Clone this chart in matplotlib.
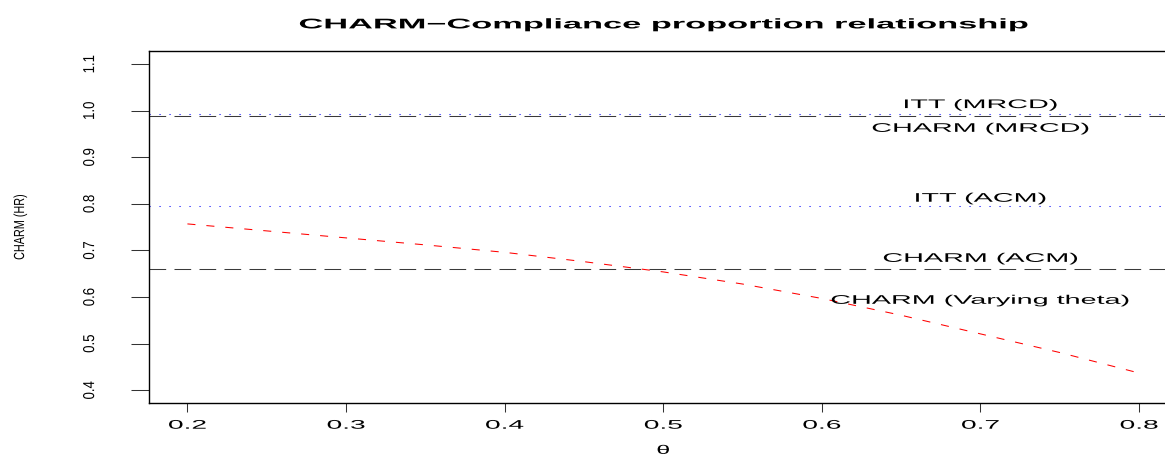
import matplotlib
matplotlib.use("Agg")
import matplotlib.pyplot as plt
from matplotlib.patheffects import AbstractPathEffect
from matplotlib.transforms import Affine2D

plt.rcParams['font.family'] = ['Liberation Sans', 'DejaVu Sans']
plt.rcParams['lines.scale_dashes'] = False

# CHARM hazard ratio as the compliance proportion theta varies
theta = [0.20, 0.25, 0.30, 0.35, 0.40, 0.45, 0.50, 0.55, 0.60, 0.65, 0.70, 0.75, 0.80]
charm_theta = [0.757, 0.742, 0.727, 0.712, 0.696, 0.676, 0.654, 0.628, 0.597, 0.561, 0.521, 0.481, 0.437]

# reference levels
itt_mrcd = 0.993
charm_mrcd = 0.988
itt_acm = 0.796
charm_acm = 0.660

label_text = ["ITT (MRCD)", "CHARM (MRCD)", "ITT (ACM)", "CHARM (ACM)", "CHARM (Varying theta)"]
label_y = [1.012, 0.961, 0.811, 0.682, 0.592]
label_x = 0.7

xticks = [0.2, 0.3, 0.4, 0.5, 0.6, 0.7, 0.8]
yticks = [0.4, 0.5, 0.6, 0.7, 0.8, 0.9, 1.0, 1.1]


class Stretch(AbstractPathEffect):
    """Scale the glyph outlines of a text about their own centre."""

    def __init__(self, sx=1.0, sy=1.0):
        super().__init__()
        self.sx = sx
        self.sy = sy

    def draw_path(self, renderer, gc, tpath, affine, rgbFace=None):
        box = tpath.get_extents()
        cx = (box.x0 + box.x1) / 2
        cy = (box.y0 + box.y1) / 2
        scale = Affine2D().translate(-cx, -cy).scale(self.sx, self.sy).translate(cx, cy)
        renderer.draw_path(gc, tpath, scale + affine, rgbFace)


fig = plt.figure(figsize=(11.65, 4.58), dpi=100)
ax = fig.add_axes([0.1282, 0.1194, 0.8822, 0.7692])

ax.axhline(itt_mrcd, color='blue', lw=0.75, linestyle=(0, (0.8, 6.4)))
ax.axhline(charm_mrcd, color='#3a3a3a', lw=0.75, linestyle=(0, (12, 6)))
ax.axhline(itt_acm, color='blue', lw=0.75, linestyle=(0, (0.8, 6.4)))
ax.axhline(charm_acm, color='#3a3a3a', lw=0.75, linestyle=(0, (12, 6)))
ax.plot(theta, charm_theta, color='red', lw=0.75, linestyle=(0, (5.8, 7.9)))

for s, y in zip(label_text, label_y):
    ax.text(label_x, y, s, ha='center', va='center', fontsize=9,
            path_effects=[Stretch(2.3, 1.0)])

ax.set_xlim(0.176, 0.824)
ax.set_ylim(0.372, 1.128)
ax.set_xticks(xticks)
ax.set_yticks(yticks)
ax.set_xticklabels([f"{v:.1f}" for v in xticks])
ax.set_yticklabels([f"{v:.1f}" for v in yticks])

ax.tick_params(axis='x', length=6.5, width=0.75, pad=5.3, labelsize=9, color='#333333')
ax.tick_params(axis='y', length=13, width=0.75, pad=25.3, labelsize=9.5, color='#333333',
               labelrotation=90)
for lbl in ax.get_xticklabels():
    lbl.set_path_effects([Stretch(2.25, 1.0)])
for lbl in ax.get_yticklabels():
    lbl.set_va('center')
    lbl.set_path_effects([Stretch(1.0, 1.2)])

for sp in ax.spines.values():
    sp.set_linewidth(1.0)

ax.set_title("CHARM\u2212Compliance proportion relationship", fontsize=10.1,
             fontweight='bold', pad=16.3, path_effects=[Stretch(2.45, 1.0)])

ax.set_xlabel("\u03b8", fontsize=9, path_effects=[Stretch(2.0, 1.0)])
ax.xaxis.set_label_coords(0.5, -0.135)
ax.xaxis.label.set_va('center')

ax.set_ylabel("CHARM (HR)", fontsize=7.8, path_effects=[Stretch(1.0, 1.35)])
ax.yaxis.set_label_coords(-0.1258, 0.5)
ax.yaxis.label.set_va('center')

fig.savefig("out.png", dpi=100)
